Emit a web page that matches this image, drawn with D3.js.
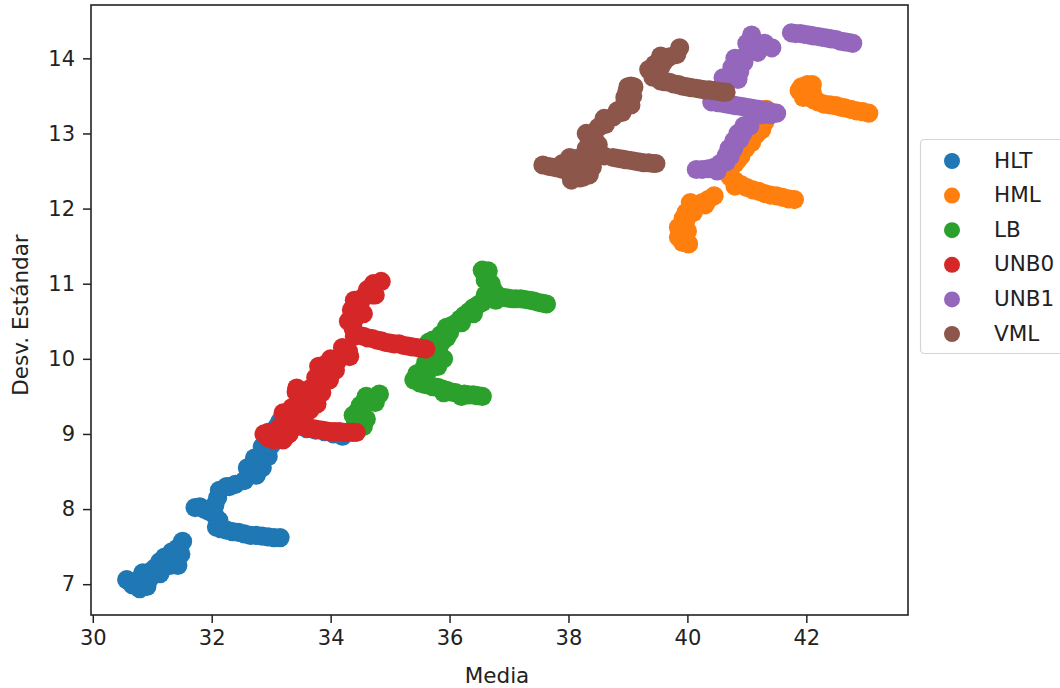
<!DOCTYPE html>
<html><head><meta charset="utf-8">
<script src="https://cdn.jsdelivr.net/npm/d3@7/dist/d3.min.js"></script>
<style>html,body{margin:0;padding:0;background:#fff}svg{display:block}text{font-family:"DejaVu Sans",sans-serif;fill:#222}</style>
</head><body><svg id="c" width="1060" height="688"></svg>
<script>
const categories=["HLT","HML","LB","UNB0","UNB1","VML"];
const colors=["#1f77b4","#ff7f0e","#2ca02c","#d62728","#9467bd","#8c564b"];
const xTicks=[30,32,34,36,38,40,42];
const yTicks=[7,8,9,10,11,12,13,14];
const HLT=[[30.57,7.06],[30.67,6.99],[30.79,6.94],[30.91,6.97],[30.96,7.08],[30.84,7.15],[30.99,7.18],[31.13,7.14],[31.13,7.3],[31.3,7.25],[31.43,7.25],[31.48,7.4],[31.33,7.43],[31.21,7.36],[31.43,7.48],[31.51,7.57],[30.75,7.05],[31.05,7.22],[31.22,7.28],
[33.15,7.62],[33.05,7.62],[32.95,7.63],[32.85,7.64],[32.75,7.65],[32.65,7.65],[32.55,7.67],[32.45,7.69],[32.35,7.7],[32.25,7.72],[32.15,7.74],[32.08,7.76],[32.12,7.85],[32.05,7.92],[31.95,7.97],[31.72,8.02],[31.8,8.03],[31.87,8.0],[31.95,8.0],[32.05,8.05],[32.1,8.15],[32.13,8.25],[32.25,8.3],[32.3,8.3],[32.4,8.33],[32.55,8.38],[32.6,8.55],[32.62,8.5],[32.72,8.55],[32.75,8.45],[32.85,8.55],[32.8,8.6],[32.72,8.68],[32.82,8.72],[32.95,8.7],[32.9,8.75],[32.85,8.83],[32.95,8.9],[33.0,8.85],[33.0,9.02],[33.1,9.1],[33.15,9.17],[33.3,9.15],[33.45,9.1],[33.6,9.07],[33.75,9.05],[33.9,9.03],[34.05,9.0],[34.2,8.97],[34.15,9.0]];
const HML=[[43.05,13.27],[42.95,13.29],[42.85,13.3],[42.75,13.32],[42.65,13.34],[42.58,13.35],[42.5,13.37],[42.4,13.38],[42.3,13.39],[42.2,13.42],[42.12,13.45],[42.05,13.48],[41.98,13.52],[41.95,13.48],[42.1,13.55],[42.0,13.6],[41.88,13.57],[41.92,13.62],[42.02,13.65],[42.1,13.65],
[41.8,12.12],[41.7,12.13],[41.6,12.15],[41.5,12.17],[41.4,12.18],[41.3,12.2],[41.2,12.23],[41.1,12.25],[41.0,12.28],[40.9,12.32],[40.8,12.3],[40.8,12.37],[40.72,12.42],[40.65,12.5],[40.72,12.55],[40.8,12.6],[40.85,12.65],[40.9,12.7],[40.98,12.8],[41.08,12.88],[41.15,12.98],[41.25,13.05],[41.3,13.15],[41.35,13.25],[41.33,13.32],
[40.45,12.17],[40.35,12.12],[40.3,12.05],[40.25,12.08],[40.15,12.05],[40.1,11.95],[40.05,12.08],[40.05,12.0],[39.98,11.95],[39.93,11.87],[39.98,11.85],[39.95,11.78],[39.85,11.75],[40.0,11.7],[39.9,11.7],[39.85,11.62],[39.92,11.55],[40.02,11.53],[39.95,11.65]];
const LB=[[34.82,9.53],[34.75,9.42],[34.7,9.47],[34.6,9.5],[34.58,9.45],[34.5,9.38],[34.45,9.3],[34.38,9.25],[34.6,9.2],[34.5,9.17],[34.42,9.15],[34.55,9.1],[34.45,9.05],
[36.55,9.5],[36.47,9.51],[36.4,9.52],[36.32,9.52],[36.25,9.53],[36.2,9.5],[36.1,9.55],[36.02,9.56],[35.95,9.58],[35.9,9.55],[35.87,9.6],[35.8,9.62],[35.72,9.63],[35.65,9.65],[35.58,9.66],[35.5,9.68],[35.4,9.72],[35.5,9.75],[35.45,9.8],[35.55,9.85],[35.65,9.85],[35.8,9.9],[35.6,9.95],[35.75,10.0],[35.9,10.0],[35.85,10.03],[35.75,10.08],[35.75,10.15],[35.65,10.22],
[35.72,10.25],[35.85,10.2],[35.85,10.32],[35.95,10.28],[36.0,10.35],[35.95,10.42],[36.03,10.44],[36.1,10.47],[36.2,10.48],[36.18,10.53],[36.25,10.58],[36.33,10.63],[36.4,10.6],[36.4,10.68],[36.48,10.72],[36.55,10.75],[36.6,10.85],[36.68,10.8],[36.75,10.9],[36.78,10.78],[36.68,10.95],[36.7,11.0],[36.6,11.05],[36.6,11.1],[36.55,11.18],[36.65,11.17],
[37.63,10.73],[37.57,10.74],[37.5,10.75],[37.42,10.77],[37.35,10.78],[37.27,10.79],[37.2,10.8],[37.12,10.8],[37.05,10.8],[36.97,10.81],[36.9,10.82],[36.75,10.82]];
const UNB0=[[34.85,11.03],[34.72,11.0],[34.75,10.85],[34.62,10.92],[34.7,10.85],[34.55,10.82],[34.5,10.75],[34.4,10.78],[34.55,10.6],[34.35,10.65],[34.42,10.55],[34.3,10.5],[34.38,10.4],[34.4,10.3],
[35.6,10.13],[35.52,10.14],[35.45,10.15],[35.37,10.16],[35.3,10.17],[35.22,10.18],[35.15,10.2],[35.07,10.2],[35.0,10.21],[34.92,10.22],[34.85,10.24],[34.78,10.25],[34.7,10.27],[34.62,10.28],[34.55,10.3],
[34.32,10.03],[34.2,10.15],[34.3,10.1],[34.2,10.03],[34.1,9.95],[34.08,9.85],[34.05,9.98],[34.0,10.0],[33.98,9.72],[33.95,9.88],[33.9,9.92],[33.85,9.55],[33.8,9.9],[33.88,9.78],[33.85,9.65],[33.75,9.75],[33.72,9.55],[33.65,9.32],[33.65,9.6],[33.6,9.48],[33.55,9.55],[33.53,9.56],[33.43,9.61],[33.42,9.56],[33.77,9.4],[33.55,9.45],[33.5,9.42],[33.48,9.3],[33.53,9.23],[33.35,9.35],[33.35,9.25],[33.25,9.18],[33.2,9.28],[33.15,9.1],[33.1,9.05],[32.95,9.02],[32.88,9.0],[32.95,8.95],[33.05,8.95],[33.05,8.92],[33.2,8.92],[33.3,9.0],
[34.43,9.02],[34.37,9.02],[34.3,9.02],[34.22,9.02],[34.15,9.03],[34.07,9.03],[34.0,9.03],[33.92,9.04],[33.85,9.05],[33.77,9.06],[33.7,9.07],[33.62,9.08],[33.55,9.1],[33.47,9.11],[33.4,9.12]];
const UNB1=[[42.78,14.2],[42.72,14.21],[42.65,14.22],[42.57,14.23],[42.5,14.25],[42.42,14.26],[42.35,14.27],[42.27,14.28],[42.2,14.29],[42.12,14.3],[42.05,14.31],[41.97,14.32],[41.9,14.33],[41.82,14.33],[41.75,14.34],
[41.08,14.31],[41.12,14.18],[41.05,14.18],[41.25,14.17],[41.3,14.2],[41.42,14.14],[41.18,14.08],[41.05,14.1],[40.95,14.02],[40.95,13.95],[40.9,13.9],[40.8,14.0],[40.75,13.88],[40.88,13.82],[40.78,13.75],[40.72,13.75],[40.85,13.72],[40.6,13.74],[40.8,13.9],[41.0,14.2],
[40.41,13.42],[40.52,13.41],[40.6,13.4],[40.67,13.39],[40.75,13.38],[40.82,13.37],[40.9,13.36],[40.97,13.35],[41.05,13.34],[41.12,13.33],[41.2,13.32],[41.27,13.31],[41.35,13.3],[41.42,13.28],[41.5,13.27],[41.4,13.25],[41.25,13.25],[41.1,13.25],
[40.95,13.1],[41.05,13.1],[40.93,13.0],[40.85,13.0],[40.88,12.92],[40.78,12.9],[40.78,12.8],[40.7,12.8],[40.72,12.7],[40.65,12.7],[40.65,12.62],[40.55,12.6],[40.45,12.55],[40.35,12.53],[40.25,12.52],[40.15,12.52],[40.5,12.5]];
const VML=[[39.87,14.14],[39.82,14.05],[39.7,14.02],[39.6,13.95],[39.55,14.03],[39.55,13.88],[39.45,13.92],[39.35,13.85],[39.42,13.75],[39.55,13.7],[39.62,13.69],[39.7,13.68],[39.77,13.66],[39.85,13.65],[39.92,13.63],[40.0,13.62],[40.07,13.61],[40.15,13.6],[40.22,13.59],[40.3,13.58],[40.37,13.58],[40.45,13.57],[40.52,13.56],[40.6,13.55],[40.65,13.55],
[39.05,13.63],[39.1,13.62],[39.0,13.62],[38.98,13.55],[39.08,13.5],[38.95,13.48],[38.95,13.42],[39.05,13.38],[38.9,13.28],[38.82,13.3],[38.75,13.22],[38.6,13.2],[38.62,13.12],[38.5,13.08],[38.45,12.9],[38.43,13.0],[38.3,13.0],[38.4,12.98],[38.35,12.85],[38.3,12.8],[38.5,12.85],[38.4,12.75],[38.45,12.72],
[39.47,12.6],[39.42,12.6],[39.35,12.61],[39.27,12.61],[39.2,12.62],[39.12,12.63],[39.05,12.64],[38.97,12.65],[38.9,12.66],[38.82,12.67],[38.75,12.68],[38.6,12.7],
[37.57,12.58],[37.67,12.56],[37.75,12.55],[37.82,12.54],[37.9,12.6],[37.9,12.52],[38.02,12.68],[38.05,12.47],[38.0,12.6],[38.15,12.67],[38.15,12.55],[38.15,12.5],[38.3,12.65],[38.3,12.5],[38.4,12.55],[38.35,12.45],[38.25,12.42],[38.19,12.41],[38.05,12.38]];
const seriesData=[HLT,HML,LB,UNB0,UNB1,VML];

const svg=d3.select("#c");
const L=91,R=908,T=5,B=615;
const x=d3.scaleLinear().domain([29.97,43.71]).range([L,R]);
const y=d3.scaleLinear().domain([6.59,14.71]).range([B,T]);
seriesData.forEach((pts,i)=>{
  svg.append("g").selectAll("circle").data(pts).join("circle")
    .attr("cx",d=>x(d[0])).attr("cy",d=>y(d[1])).attr("r",9.6).attr("fill",colors[i]);
});
const ax=svg.append("g").attr("transform",`translate(0,${B})`).call(d3.axisBottom(x).tickValues(xTicks).tickSize(8).tickPadding(7));
const ay=svg.append("g").attr("transform",`translate(${L},0)`).call(d3.axisLeft(y).tickValues(yTicks).tickSize(8).tickPadding(8));
[ax,ay].forEach(g=>{g.selectAll("text").attr("font-size",21).style("font-family",'"DejaVu Sans"').style("fill","#222");g.selectAll("line").attr("stroke","#222").attr("stroke-width",1.5);g.select(".domain").remove();});
svg.append("rect").attr("x",L).attr("y",T).attr("width",R-L).attr("height",B-T).attr("fill","none").attr("stroke","#222").attr("stroke-width",1.6);
svg.append("text").attr("x",497).attr("y",683).attr("text-anchor","middle").attr("font-size",21.5).text("Media");
svg.append("text").attr("transform","translate(28,315) rotate(-90)").attr("text-anchor","middle").attr("font-size",21.5).text("Desv. Estándar");
const legY=d3.scalePoint().domain(categories).range([161,334]);
svg.append("rect").attr("x",920.5).attr("y",139.5).attr("width",160).attr("height",214).attr("rx",4).attr("fill","#fff").attr("stroke","#d5d5d5").attr("stroke-width",1.2);
categories.forEach((c,i)=>{
  svg.append("circle").attr("cx",952).attr("cy",legY(c)).attr("r",8).attr("fill",colors[i]);
  svg.append("text").attr("x",994).attr("y",legY(c)+6.5).attr("font-size",21.5).text(c);
});
</script></body></html>
